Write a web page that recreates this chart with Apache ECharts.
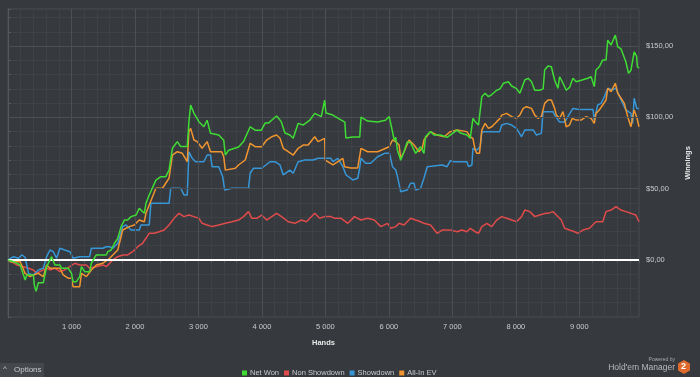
<!DOCTYPE html>
<html>
<head>
<meta charset="utf-8">
<script src="https://cdn.jsdelivr.net/npm/echarts@6/dist/echarts.min.js"></script>
<style>
html,body{margin:0;padding:0;background:#36393d;}
#chart{width:700px;height:377px;}
</style>
</head>
<body>
<div id="chart"></div>
<script>
// ---- data (hands, winnings $) ----
const seriesNames = ['Net Won', 'Non Showdown', 'Showdown', 'All-In EV'];

const netWon = [[0,0],[24,1.2],[87,-1.2],[192,-3.5],[270,-14],[296,-10.5],[400,-10.5],[415,-17.5],[442,-22],[478,-16],[556,-16],[583,-15],[609,-4.7],[687,2.3],[739,-3.5],[817,-3.5],[844,-5.8],[947,-5.8],[1000,-9.4],[1025,-15.2],[1078,-15.2],[1130,-11.7],[1157,-4.7],[1208,-8.2],[1286,-8.2],[1313,-2.3],[1391,3.5],[1548,3.5],[1573,5.8],[1626,7],[1677,11.7],[1704,11.7],[1729,15.2],[1782,23.4],[1834,28],[1885,28],[1938,30.4],[2017,31.5],[2068,36.2],[2147,32.7],[2173,39.7],[2225,45.6],[2330,56],[2408,58.4],[2486,58.4],[2537,63],[2590,78.3],[2667,83],[2721,79.5],[2824,79.5],[2850,97],[2877,108.6],[2929,103],[3007,97],[3085,93.4],[3137,98],[3190,88.8],[3320,87.6],[3398,84],[3424,73.6],[3476,77],[3632,79.2],[3710,83],[3815,93.4],[3894,91],[3992,91],[4050,96],[4102,96],[4153,98],[4231,101],[4305,97],[4363,89],[4441,87.6],[4493,85.3],[4571,95.8],[4649,94.6],[4754,98],[4832,102.8],[4935,100.5],[4988,112],[5009,103],[5118,101.6],[5197,99.5],[5306,96.7],[5322,85.5],[5431,86.2],[5541,86.2],[5561,100.2],[5666,97.4],[5823,96.7],[5947,98],[6005,100.5],[6057,90],[6083,84],[6108,86],[6135,77],[6186,70],[6239,76],[6290,83],[6343,82],[6421,74.8],[6501,79.4],[6552,74.8],[6577,86.4],[6656,90],[6710,87.6],[6812,87.6],[6917,86],[7073,91],[7130,89],[7229,87.6],[7281,85.3],[7310,84.5],[7324,99.3],[7360,97],[7412,94.6],[7464,114.5],[7516,116.9],[7569,114.5],[7621,116],[7699,119],[7751,120],[7803,123.9],[7882,125],[7934,122],[8011,120.2],[8063,116.9],[8141,126.2],[8195,127.4],[8247,125],[8298,119],[8376,119],[8430,120],[8454,133.2],[8507,136],[8560,135.5],[8584,130.9],[8611,126.2],[8663,120.4],[8690,128.5],[8742,124],[8794,119],[8846,121],[8899,127.4],[8951,125],[9029,126],[9133,127.4],[9185,128.5],[9236,121.6],[9262,133.2],[9315,135.5],[9368,140.2],[9421,140.2],[9448,154.2],[9500,150.7],[9567,157.7],[9605,149.5],[9657,148],[9733,139],[9775,130.9],[9813,133],[9864,146],[9902,143],[9915,135.5],[9940,134.4]];

const nonShowdown = [[0,0],[140,-3.5],[243,-4.7],[322,-5.8],[400,-7],[453,-9.4],[504,-8.2],[556,-7],[609,-5.8],[661,-7],[739,-5.8],[817,-8.2],[895,-7],[974,-4.7],[1052,-2.3],[1130,-3.5],[1235,-3.5],[1286,-5.8],[1391,-4.7],[1495,-3.5],[1548,-4.7],[1651,0],[1729,2.3],[1807,3.5],[1885,3.5],[1964,5.8],[2042,9.3],[2120,11.7],[2173,15.2],[2225,18.7],[2303,18.7],[2381,19.8],[2459,21],[2537,24.5],[2616,29.2],[2694,32.7],[2772,30.4],[2850,31.5],[2929,30.4],[3007,29.2],[3058,25.7],[3137,24.5],[3215,23.4],[3320,24.5],[3424,25.7],[3528,26.8],[3632,28],[3710,30.4],[3789,33.9],[3841,29.2],[3919,29.2],[3997,31.5],[4075,28],[4153,30.4],[4231,32.7],[4310,30.4],[4414,26.8],[4519,25.7],[4622,28],[4701,26.8],[4832,32.7],[4910,29.2],[4988,30.4],[5092,30.4],[5144,29.2],[5248,29.2],[5353,25.7],[5457,30.4],[5561,28],[5666,29.2],[5770,28],[5874,23.4],[5978,25.7],[6030,22.2],[6108,23.4],[6161,25.7],[6239,24.5],[6343,29.2],[6421,28],[6500,26.8],[6552,25.7],[6656,24.5],[6760,18.7],[6839,21],[6865,19.8],[6969,21],[7073,19.8],[7151,21],[7229,19.8],[7281,22.2],[7359,19.8],[7412,18.7],[7464,23.4],[7543,25.7],[7621,23.4],[7699,28],[7777,30.4],[7855,29.2],[7934,28],[8011,26.8],[8090,30.4],[8141,35],[8220,33.9],[8298,30.4],[8376,31.5],[8470,32.7],[8507,32.7],[8585,33.9],[8638,31.5],[8716,28],[8768,22.2],[8846,21],[8925,19.8],[8977,18.7],[9055,21],[9159,22.2],[9262,26.8],[9368,26.8],[9421,33.9],[9500,35],[9578,37.4],[9657,35],[9733,33.9],[9813,32.7],[9890,31.5],[9940,26.8]];

const showdown = [[0,0],[87,2.3],[165,1.2],[218,3.5],[270,1.9],[322,-9.4],[400,-10.5],[478,-7],[556,-5.8],[609,2.3],[661,7],[713,5.8],[765,1.2],[817,8.2],[895,7],[974,5.8],[1025,1.2],[1130,2.3],[1286,2.3],[1313,8.2],[1495,8.2],[1548,9.3],[1599,9.3],[1651,8.2],[1729,11.7],[1807,23.4],[1860,24.5],[1938,21],[2068,21],[2095,24.5],[2225,24.5],[2251,39.7],[2381,39.7],[2537,39.7],[2564,50.3],[2721,50.3],[2772,45.6],[2824,45.6],[2850,75.9],[2902,71.3],[2955,68.9],[3085,68.9],[3137,73.6],[3190,73.6],[3215,65.4],[3320,65.4],[3382,58.4],[3413,49],[3523,50.3],[3789,50.3],[3815,60.8],[3867,64.3],[3997,64.3],[4023,65.4],[4128,68.9],[4206,68.9],[4285,66.6],[4336,59.6],[4441,63],[4493,60.8],[4571,68.9],[4676,70.1],[4806,70.1],[4884,71.3],[5087,71.3],[5118,68.9],[5197,71.3],[5275,65.4],[5326,59.6],[5431,56.1],[5509,57.3],[5535,63.1],[5561,71.3],[5634,67.8],[5713,67.8],[5823,72.4],[5932,74.8],[6010,74.8],[6057,65.4],[6108,63.1],[6135,58.4],[6186,47.9],[6290,49.1],[6343,53.8],[6396,53.8],[6421,49.1],[6500,50.3],[6552,57.3],[6604,65.4],[6839,66.6],[6917,65.4],[6969,69.6],[7026,68.9],[7229,68.9],[7256,65.4],[7308,66.6],[7324,78.3],[7386,77.1],[7438,79.4],[7464,90],[7746,90],[7777,94.6],[7855,95.8],[7934,94.6],[8011,92.3],[8090,86.4],[8141,91.1],[8277,91.1],[8325,87.6],[8402,88.8],[8429,104],[8585,104],[8611,101.6],[8690,96.7],[8768,96.7],[8899,106.3],[8998,105.6],[9216,105.6],[9236,98.1],[9289,108.7],[9342,109.8],[9395,114.5],[9448,120.4],[9526,119.3],[9578,120.4],[9657,112.2],[9733,105.2],[9813,102.8],[9839,95.8],[9864,113.4],[9890,114.5],[9905,106.3],[9940,106.3]];

const allInEV = [[0,0],[35,-1.2],[192,-1.2],[270,-9.4],[348,-11.7],[400,-10.5],[478,-9.4],[556,-11.7],[609,-3.5],[661,-5.8],[817,-5.8],[869,-10.5],[947,-12.8],[1000,-12.8],[1025,-18.7],[1130,-18.7],[1157,-9.4],[1235,-11.7],[1313,-7],[1391,-3.5],[1495,-2.3],[1573,0],[1651,3.5],[1729,7],[1807,21],[1912,23.4],[1990,24.5],[2068,28],[2147,26.8],[2173,32.7],[2225,38.6],[2330,50.3],[2433,50.3],[2537,57.3],[2590,73.6],[2667,75.9],[2746,74.8],[2824,68.9],[2850,90],[2877,92.3],[2929,84.1],[2980,83],[3058,78.3],[3137,83],[3190,75.9],[3366,75.9],[3398,72.4],[3424,63],[3581,64.3],[3632,66.6],[3737,70.1],[3815,81.8],[3894,79.4],[3997,79.4],[4075,84.1],[4153,86.4],[4231,87.6],[4285,85.3],[4336,78.3],[4414,75.9],[4493,73.6],[4571,78.3],[4649,80.6],[4728,80.6],[4832,86.4],[4884,83],[4988,85.3],[4998,70.1],[5118,66.6],[5197,68.9],[5275,71.3],[5301,65.4],[5400,64.5],[5509,64.5],[5561,78.3],[5666,75.9],[5823,75.9],[6005,79.4],[6057,84.1],[6108,83],[6161,80.6],[6186,71.3],[6239,75.9],[6318,84.1],[6396,80.6],[6474,75.9],[6526,78.3],[6552,84.1],[6656,90],[6760,87.6],[6870,86.4],[6969,90],[7073,91.1],[7229,90],[7281,86.4],[7324,85.3],[7359,77.1],[7386,74.8],[7428,74.8],[7464,91.1],[7516,95.8],[7569,92.3],[7621,93.4],[7699,97],[7751,99.3],[7777,101.6],[7855,102.8],[7934,100.5],[8011,99.3],[8063,101.6],[8116,106.3],[8168,107.5],[8247,106.3],[8298,101.6],[8351,99.3],[8402,100.5],[8454,109.8],[8507,112.2],[8560,112.2],[8611,106.3],[8638,101.6],[8690,99.3],[8742,104],[8794,93.4],[8846,94.6],[8888,99.3],[8951,98.1],[9029,98.1],[9107,100.5],[9185,99.3],[9236,95.8],[9262,102.8],[9315,105.2],[9368,108.7],[9421,112.2],[9448,120.4],[9500,118],[9567,123.9],[9605,116.9],[9657,113.4],[9709,109.8],[9762,100.5],[9813,93.4],[9864,105.2],[9902,100.5],[9940,93.4]];

const handTicks = [1000,2000,3000,4000,5000,6000,7000,8000,9000];
const winTicks = [50,100,150];
const colors = ['#3fdc35','#e04b4b','#3796d7','#f0952f'];

// ---- chart ----
const BG = '#36393d', MINOR = '#3e4145', MAJOR = '#4b4e52', TXT = '#c9cbcd';
const FONT = '"Liberation Sans", Arial, sans-serif';
const chart = echarts.init(document.getElementById('chart'));

function lineSeries(name, data, color, z) {
  return {
    name, type: 'line', data, z,
    showSymbol: false, symbol: 'none',
    lineStyle: { width: 1.5, color },
    itemStyle: { color },
    emphasis: { disabled: true },
    animation: false
  };
}

const option = {
  backgroundColor: BG,
  animation: false,
  color: colors,
  grid: { left: 8, right: 57, top: 9, bottom: 60, show: true, borderColor: MAJOR, borderWidth: 1, backgroundColor: 'transparent' },
  xAxis: {
    type: 'value', min: 0, max: 9940, interval: 200,
    axisLine: { show: true, lineStyle: { color: '#55585c' } },
    axisTick: { show: true, length: 3, lineStyle: { color: '#55585c' } },
    splitLine: { show: true, lineStyle: { color: MINOR, width: 1 } },
    axisLabel: {
      color: TXT, fontSize: 7.5, fontFamily: FONT, margin: 6,
      formatter: v => (v % 1000 === 0 && v > 0) ? String(v).replace(/\B(?=(\d{3})+(?!\d))/g, ' ') : ''
    },
    name: 'Hands', nameLocation: 'middle', nameGap: 22,
    nameTextStyle: { color: '#e8e9ea', fontSize: 7.5, fontWeight: 'bold', fontFamily: FONT }
  },
  yAxis: {
    type: 'value', position: 'right', min: -40, max: 176, interval: 10,
    axisLine: { show: true, lineStyle: { color: '#55585c' } },
    axisTick: { show: true, length: 3, lineStyle: { color: '#55585c' } },
    splitLine: { show: true, lineStyle: { color: MINOR, width: 1 } },
    axisLabel: {
      color: TXT, fontSize: 7.5, fontFamily: FONT, margin: 7,
      formatter: v => (v % 50 === 0) ? '$' + v + ',00' : ''
    },
    name: 'Winnings', nameLocation: 'middle', nameGap: 38,
    nameTextStyle: { color: '#e8e9ea', fontSize: 7.5, fontWeight: 'bold', fontFamily: FONT }
  },
  legend: {
    data: seriesNames,
    left: 237, top: 364,
    icon: 'rect', itemWidth: 5, itemHeight: 5, itemGap: 5,
    textStyle: { color: TXT, fontSize: 7.5, fontFamily: FONT, padding: [0,0,0,-2] },
    selectedMode: false
  },
  series: [
    {
      name: '_grid', type: 'line', data: [], z: 1, silent: true,
      markLine: {
        silent: true, symbol: 'none', animation: false,
        label: { show: false },
        lineStyle: { color: MAJOR, width: 1, type: 'solid' },
        data: handTicks.map(v => ({ xAxis: v })).concat(winTicks.map(v => ({ yAxis: v })))
      }
    },
    lineSeries(seriesNames[1], nonShowdown, colors[1], 2),
    lineSeries(seriesNames[2], showdown, colors[2], 3),
    lineSeries(seriesNames[3], allInEV, colors[3], 4),
    lineSeries(seriesNames[0], netWon, colors[0], 5),
    {
      name: '_zero', type: 'line', data: [], z: 6, silent: true,
      markLine: {
        silent: true, symbol: 'none', animation: false,
        label: { show: false },
        lineStyle: { color: '#ffffff', width: 2, type: 'solid' },
        data: [{ yAxis: 0 }]
      }
    }
  ],
  graphic: [
    { type: 'rect', left: 0, top: 363, shape: { width: 44, height: 14 }, style: { fill: '#44474b' } },
    { type: 'text', left: 3, top: 365, style: { text: '^', fill: TXT, fontSize: 8, fontFamily: FONT } },
    { type: 'text', left: 14, top: 366, style: { text: 'Options', fill: TXT, fontSize: 8, fontFamily: FONT } },
    { type: 'text', right: 25, top: 357, style: { text: 'Powered by', fill: '#a9abad', fontSize: 5, fontFamily: FONT } },
    { type: 'text', right: 25, top: 363, style: { text: "Hold'em Manager", fill: '#b9bbbd', fontSize: 8.5, fontFamily: FONT } },
    { type: 'polygon', shape: { points: [[684,360],[690,363.5],[690,370.5],[684,374],[678,370.5],[678,363.5]] }, style: { fill: '#dd6a2c' } },
    { type: 'text', left: 681, top: 362.5, style: { text: '2', fill: '#ffffff', fontSize: 9, fontWeight: 'bold', fontFamily: FONT } }
  ]
};
chart.setOption(option);
</script>
</body>
</html>
